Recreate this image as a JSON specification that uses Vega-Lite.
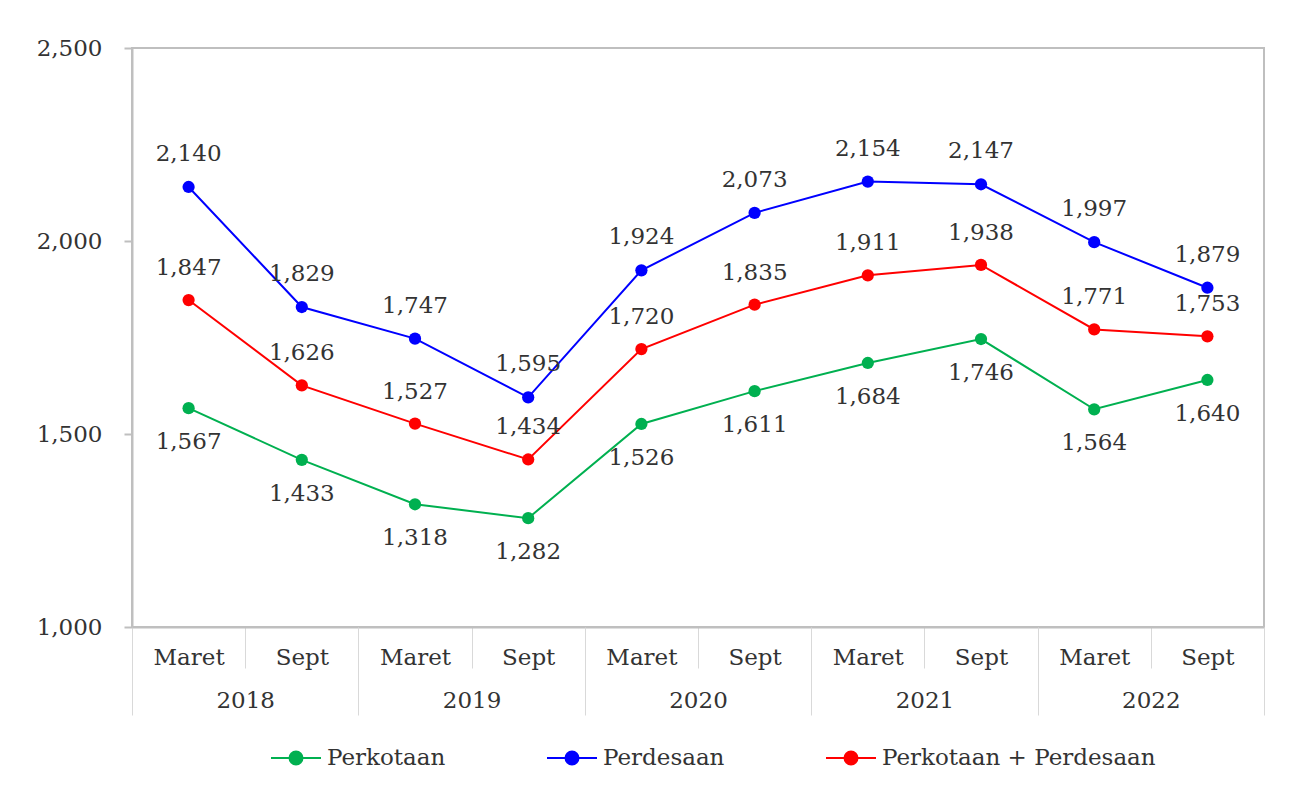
{
  "$schema": "https://vega.github.io/schema/vega-lite/v6.json",
  "width": 1132,
  "height": 579,
  "autosize": "none",
  "padding": {"left": 132, "top": 48, "right": 48, "bottom": 167},
  "background": "white",
  "config": {
    "font": "DejaVu Serif",
    "view": {"stroke": "#BFBFBF", "strokeWidth": 2},
    "axis": {"labelFont": "DejaVu Serif", "labelFontSize": 23, "labelColor": "#333333", "grid": false}
  },
  "data": {
    "values": [
      {"key": "2018-Maret", "year": "2018", "series": "Perkotaan", "value": 1567},
      {"key": "2018-Sept", "year": "2018", "series": "Perkotaan", "value": 1433},
      {"key": "2019-Maret", "year": "2019", "series": "Perkotaan", "value": 1318},
      {"key": "2019-Sept", "year": "2019", "series": "Perkotaan", "value": 1282},
      {"key": "2020-Maret", "year": "2020", "series": "Perkotaan", "value": 1526},
      {"key": "2020-Sept", "year": "2020", "series": "Perkotaan", "value": 1611},
      {"key": "2021-Maret", "year": "2021", "series": "Perkotaan", "value": 1684},
      {"key": "2021-Sept", "year": "2021", "series": "Perkotaan", "value": 1746},
      {"key": "2022-Maret", "year": "2022", "series": "Perkotaan", "value": 1564},
      {"key": "2022-Sept", "year": "2022", "series": "Perkotaan", "value": 1640},
      {"key": "2018-Maret", "year": "2018", "series": "Perdesaan", "value": 2140},
      {"key": "2018-Sept", "year": "2018", "series": "Perdesaan", "value": 1829},
      {"key": "2019-Maret", "year": "2019", "series": "Perdesaan", "value": 1747},
      {"key": "2019-Sept", "year": "2019", "series": "Perdesaan", "value": 1595},
      {"key": "2020-Maret", "year": "2020", "series": "Perdesaan", "value": 1924},
      {"key": "2020-Sept", "year": "2020", "series": "Perdesaan", "value": 2073},
      {"key": "2021-Maret", "year": "2021", "series": "Perdesaan", "value": 2154},
      {"key": "2021-Sept", "year": "2021", "series": "Perdesaan", "value": 2147},
      {"key": "2022-Maret", "year": "2022", "series": "Perdesaan", "value": 1997},
      {"key": "2022-Sept", "year": "2022", "series": "Perdesaan", "value": 1879},
      {"key": "2018-Maret", "year": "2018", "series": "Perkotaan + Perdesaan", "value": 1847},
      {"key": "2018-Sept", "year": "2018", "series": "Perkotaan + Perdesaan", "value": 1626},
      {"key": "2019-Maret", "year": "2019", "series": "Perkotaan + Perdesaan", "value": 1527},
      {"key": "2019-Sept", "year": "2019", "series": "Perkotaan + Perdesaan", "value": 1434},
      {"key": "2020-Maret", "year": "2020", "series": "Perkotaan + Perdesaan", "value": 1720},
      {"key": "2020-Sept", "year": "2020", "series": "Perkotaan + Perdesaan", "value": 1835},
      {"key": "2021-Maret", "year": "2021", "series": "Perkotaan + Perdesaan", "value": 1911},
      {"key": "2021-Sept", "year": "2021", "series": "Perkotaan + Perdesaan", "value": 1938},
      {"key": "2022-Maret", "year": "2022", "series": "Perkotaan + Perdesaan", "value": 1771},
      {"key": "2022-Sept", "year": "2022", "series": "Perkotaan + Perdesaan", "value": 1753}
    ]
  },
  "encoding": {
    "y": {
      "field": "value", "type": "quantitative",
      "scale": {"domain": [1000, 2500], "nice": false, "zero": false},
      "axis": {"title": null, "values": [1000, 1500, 2000, 2500], "format": ",.0f", "tickSize": 8, "tickColor": "#BFBFBF", "tickWidth": 2, "domainColor": "#BFBFBF", "domainWidth": 2, "labelPadding": 22}
    }
  },
  "layer": [
    {
      "encoding": {
        "x": {
          "field": "key", "type": "ordinal",
          "scale": {"type": "band", "paddingInner": 0, "paddingOuter": 0},
          "axis": {"title": null, "labelExpr": "split(datum.label, '-')[1]", "labelAngle": 0, "tickBand": "extent", "tickSize": 41, "tickColor": "#D9D9D9", "tickWidth": 1, "domainColor": "#BFBFBF", "domainWidth": 2, "labelPadding": -22, "labelBaseline": "top"}
        }
      },
      "layer": [
        {
          "mark": {"type": "line", "strokeWidth": 2},
          "encoding": {
            "color": {
              "field": "series", "type": "nominal",
              "scale": {"domain": ["Perkotaan", "Perdesaan", "Perkotaan + Perdesaan"], "range": ["#00B050", "#0000FF", "#FF0000"]},
              "legend": {
                "title": null, "orient": "none", "direction": "horizontal", "legendX": 138, "legendY": 684,
                "labelFont": "DejaVu Serif", "labelFontSize": 23, "labelColor": "#333333", "labelLimit": 500,
                "symbolType": "M-1,0H1M0.26,0A0.26,0.26,0,1,1,-0.26,0A0.26,0.26,0,1,1,0.26,0Z",
                "symbolSize": 2500, "symbolStrokeWidth": 2, "labelOffset": 5, "columnPadding": 97,
                "symbolOpacity": 1,
                "encode": {"symbols": {"update": {"fill": {"scale": "color", "field": "value"}, "stroke": {"scale": "color", "field": "value"}, "strokeWidth": {"value": 2}}}}
              }
            }
          }
        },
        {
          "mark": {"type": "point", "filled": true, "size": 150, "opacity": 1},
          "encoding": {"color": {"field": "series", "type": "nominal"}}
        },
        {
          "transform": [{"filter": "datum.series === 'Perkotaan'"}],
          "mark": {"type": "text", "dy": 34, "fontSize": 23, "color": "#333333", "font": "DejaVu Serif"},
          "encoding": {"text": {"field": "value", "type": "quantitative", "format": ",.0f"}}
        },
        {
          "transform": [{"filter": "datum.series === 'Perdesaan'"}],
          "mark": {"type": "text", "dy": -33, "fontSize": 23, "color": "#333333", "font": "DejaVu Serif"},
          "encoding": {"text": {"field": "value", "type": "quantitative", "format": ",.0f"}}
        },
        {
          "transform": [{"filter": "datum.series === 'Perkotaan + Perdesaan'"}],
          "mark": {"type": "text", "dy": -32, "fontSize": 23, "color": "#333333", "font": "DejaVu Serif"},
          "encoding": {"text": {"field": "value", "type": "quantitative", "format": ",.0f"}}
        }
      ]
    },
    {
      "mark": {"type": "point", "opacity": 0},
      "encoding": {
        "x": {
          "field": "year", "type": "ordinal",
          "scale": {"type": "band", "paddingInner": 0, "paddingOuter": 0},
          "axis": {"title": null, "orient": "bottom", "labelAngle": 0, "tickBand": "extent", "tickSize": 88, "tickColor": "#D9D9D9", "tickWidth": 1, "domain": false, "labelPadding": -26, "labelBaseline": "top"}
        }
      }
    }
  ],
  "resolve": {"scale": {"x": "independent"}, "axis": {"x": "independent"}}
}
